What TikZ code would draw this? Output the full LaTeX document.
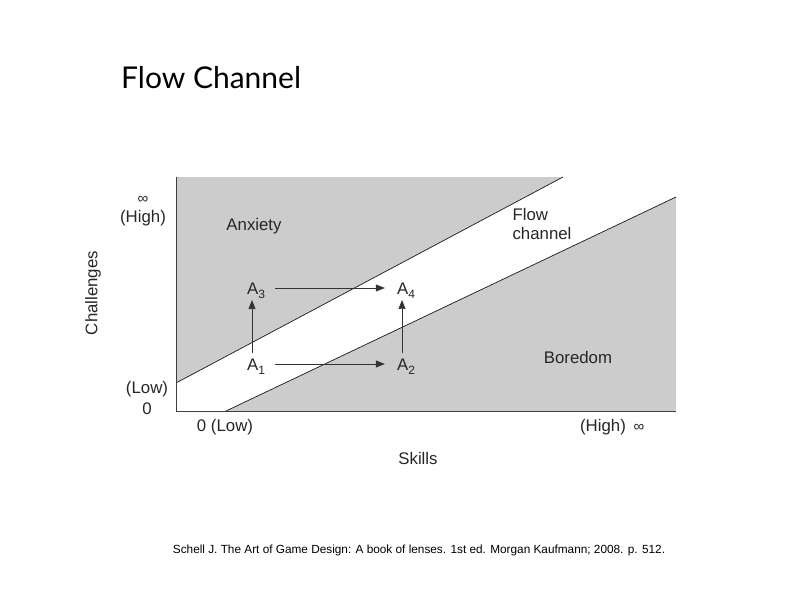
\documentclass[tikz,border=0pt]{standalone}
\usepackage{fontspec}
\setmainfont{Liberation Sans}
\newfontfamily\titlefont{Lato}
\usetikzlibrary{arrows.meta}

\newcommand{\idx}[1]{\raisebox{-0.45ex}{\fontsize{12}{13}\selectfont #1}}

\tikzset{
  zone/.style={fill=gray!40, draw=none},
  edgeline/.style={draw=black!90, line width=0.7pt},
  axisline/.style={draw=black!75, line width=0.9pt},
  lbl/.style={font=\fontsize{16.8}{19}\selectfont, text=black!85, inner sep=0pt},
  small/.style={font=\fontsize{15}{16}\selectfont, text=black!85, inner sep=0pt},
  move/.style={-{Triangle[length=9pt,width=7pt]}, line width=0.7pt, draw=black!80},
}

\begin{document}
\begin{tikzpicture}[x=1pt,y=-1pt,node distance=150pt]
  \useasboundingbox (0,0) rectangle (800,600);

  % regions and channel borders
  \fill[zone] (176,177) -- (563,177) -- (176,383) -- cycle;
  \fill[zone] (226,411) -- (676,197) -- (676,411) -- cycle;
  \coordinate (hi0) at (176,383);
  \coordinate (hi1) at (563,177);
  \coordinate (lo0) at (226,411);
  \coordinate (lo1) at (676,197);
  \draw[edgeline] (hi0) -- (hi1);
  \draw[edgeline] (lo0) -- (lo1);

  % axes
  \coordinate (ytop) at (176,177);
  \coordinate (orig) at (176,411);
  \coordinate (xend) at (676,411);
  \draw[axisline] (ytop) -- (orig) -- (xend);

  % states
  \node[lbl] (A1) at (256,367) {A\idx{1}};
  \node[lbl] (A2) [right of=A1] {A\idx{2}};
  \node[lbl] (A3) [above of=A1,node distance=76pt] {A\idx{3}};
  \node[lbl] (A4) [right of=A3] {A\idx{4}};

  \draw[move,shorten <=10pt,shorten >=12pt] ([yshift=3pt]A1.east) -- ([yshift=3pt]A2.west);
  \draw[move,shorten <=10pt,shorten >=12pt] ([yshift=3pt]A3.east) -- ([yshift=3pt]A4.west);
  \draw[move,shorten <=6pt,shorten >=1pt] ([xshift=-4pt]A1.north) -- ([xshift=-4pt]A3.south);
  \draw[move,shorten <=6pt,shorten >=1pt] ([xshift=-4pt]A2.north) -- ([xshift=-4pt]A4.south);

  % zones
  \node[lbl] (anx) at (254,226) {Anxiety};
  \node[lbl] (bor) at (578,357) {Boredom};
  \node[lbl,align=left] (flow) at (542,224) {Flow\\channel};

  % axis marks
  \node[small] (yinf) at (143,200) {∞};
  \node[lbl] (yhigh) at (143,218) {(High)};
  \node[lbl] (ylow) at (147,389) {(Low)};
  \node[lbl] (yzero) at (147,409) {0};
  \node[lbl] (xlow) at (225,427) {0 (Low)};
  \node[lbl] (xhigh) at (603,427) {(High)};
  \node[small] (xinf) at (639,428) {∞};
  \node[lbl] (skills) at (418,458) {Skills};
  \node[lbl,rotate=90] (chal) at (93,293) {Challenges};

  % title and source
  \node[anchor=west,inner sep=0pt] (title) at (121,78) {\titlefont\fontsize{30}{32}\selectfont Flow Channel};
  \node[font=\fontsize{11.8}{13}\selectfont,inner sep=0pt] (src) at (419,550) {Schell J. The Art of Game Design: A book of lenses. 1st ed. Morgan Kaufmann; 2008. p. 512.};
\end{tikzpicture}
\end{document}
